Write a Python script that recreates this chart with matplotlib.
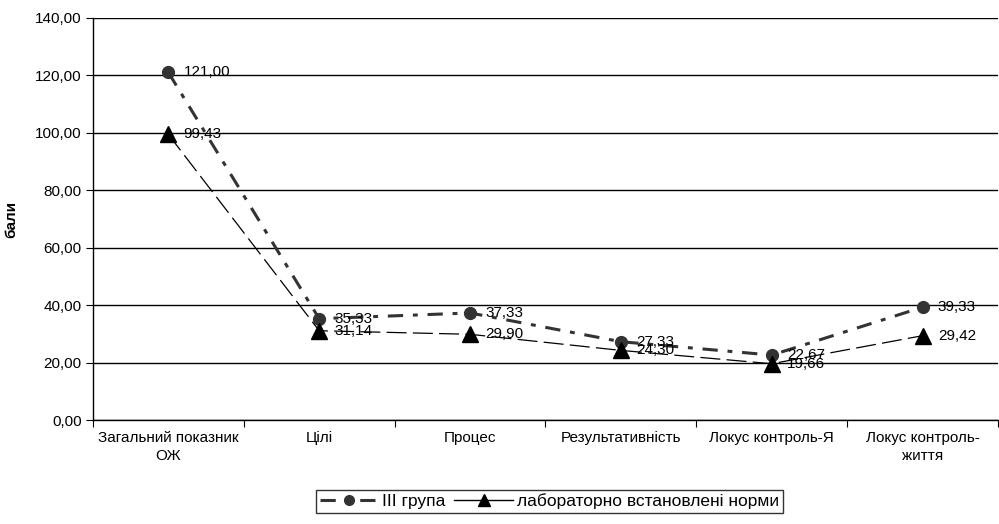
import matplotlib
matplotlib.use("Agg")
import matplotlib.pyplot as plt
from matplotlib.ticker import MultipleLocator, FuncFormatter
from matplotlib.lines import Line2D
import numpy as np

plt.rcParams['font.family'] = ['Liberation Sans', 'DejaVu Sans']

categories = ["Загальний показник\nОЖ", "Цілі", "Процес", "Результативність",
              "Локус контроль-Я", "Локус контроль-\nжиття"]
group3 = [121.00, 35.33, 37.33, 27.33, 22.67, 39.33]
norms = [99.43, 31.14, 29.90, 24.30, 19.66, 29.42]
series_names = ["III група", "лабораторно встановлені норми"]

fig = plt.figure(figsize=(9.99, 5.24), dpi=100)
ax = fig.add_axes([0.093, 0.198, 0.906, 0.768])

c1 = '#333333'
x = np.arange(len(categories))
l1, = ax.plot(x, group3, color=c1, lw=2.2, dashes=(5, 3.2, 1.6, 3.2),
              marker='o', ms=8.5, markerfacecolor=c1, markeredgecolor=c1,
              label=series_names[0], zorder=4)
l2, = ax.plot(x, norms, color='black', lw=0.9, dashes=(16, 5),
              marker='^', ms=11, markerfacecolor='black', markeredgecolor='black',
              label=series_names[1], zorder=4)

def fmt(v):
    return f"{v:.2f}".replace('.', ',')

for xi, v in zip(x, group3):
    ax.annotate(fmt(v), (xi, v), xytext=(11, 0), textcoords='offset points',
                va='center', ha='left', fontsize=11, zorder=5)
for xi, v in zip(x, norms):
    ax.annotate(fmt(v), (xi, v), xytext=(11, 0), textcoords='offset points',
                va='center', ha='left', fontsize=11, zorder=5)

ax.set_xlim(-0.5, len(categories) - 0.5)
ax.set_ylim(0, 140)
ax.yaxis.set_major_locator(MultipleLocator(20))
ax.yaxis.set_major_formatter(FuncFormatter(lambda v, p: fmt(v)))
ax.grid(axis='y', color='black', lw=1.0)
ax.set_axisbelow(True)

ax.set_xticks(np.arange(len(categories) + 1) - 0.5)
ax.set_xticklabels([])
ax.set_xticks(x, minor=True)
ax.set_xticklabels(categories, minor=True, fontsize=11, linespacing=1.3)
ax.tick_params(axis='x', which='minor', length=0, pad=8)
ax.tick_params(axis='x', which='major', length=5, color='black')
ax.tick_params(axis='y', length=5, labelsize=11, pad=3)

for s in ['top', 'right']:
    ax.spines[s].set_visible(False)
for s in ['left', 'bottom']:
    ax.spines[s].set_color('black')
    ax.spines[s].set_linewidth(1.0)

ax.set_ylabel("бали", fontsize=11, fontweight='bold', labelpad=12)

h1 = Line2D([], [], color=c1, lw=2.2, dashes=(5, 3.2, 1.6, 3.2), marker='o',
            ms=7, markerfacecolor=c1, markeredgecolor=c1)
h2 = Line2D([], [], color='black', lw=1.0, marker='^', ms=9,
            markerfacecolor='black', markeredgecolor='black')
leg = fig.legend(handles=[h1, h2], labels=series_names, loc='center',
                 bbox_to_anchor=(0.55, 0.043),
                 ncol=2, frameon=True, fancybox=False, edgecolor='black',
                 fontsize=12.5, handlelength=3.4, handletextpad=0.2, columnspacing=0.5,
                 borderpad=0.2, borderaxespad=0)
leg.get_frame().set_linewidth(1.0)

fig.savefig("out.png", dpi=100)
